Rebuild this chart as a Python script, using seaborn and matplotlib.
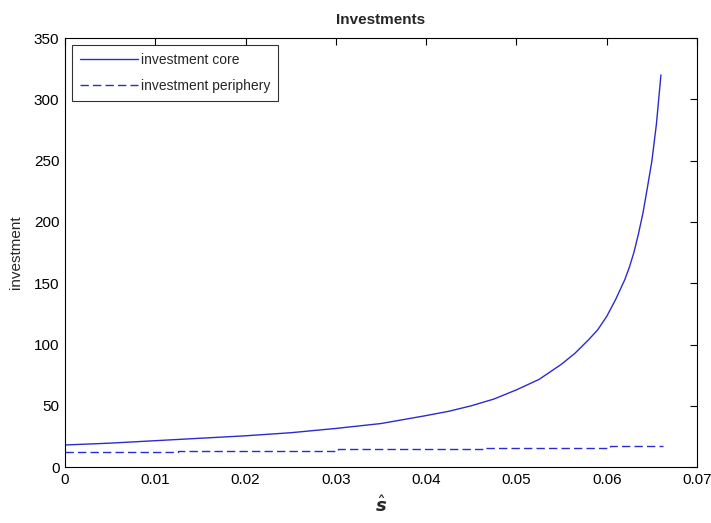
import numpy as np
import pandas as pd
import matplotlib
matplotlib.use('Agg')
import matplotlib.pyplot as plt
import seaborn as sns

# 数据：从图上读取
g_core = [0.0, 0.005, 0.01, 0.015, 0.02, 0.025, 0.03, 0.035, 0.04, 0.0425,
          0.045, 0.0475, 0.05, 0.0525, 0.055, 0.0565, 0.058, 0.059, 0.06,
          0.061, 0.062, 0.0625, 0.063, 0.0635, 0.064, 0.0645, 0.065,
          0.0655, 0.066]
inv_core = [18, 19.5, 21.5, 23.5, 25.5, 28, 31.5, 35.5, 42, 45.5,
            50, 55.5, 63, 71.5, 84, 93, 104, 112, 123,
            137, 153, 163, 175, 190, 207, 228, 250,
            280, 320]

g_peri = [0.0, 0.0125, 0.0302, 0.0465, 0.0604, 0.0662]
inv_peri = [12.5, 13.3, 15.0, 15.5, 16.8, 16.8]

line_color = '#2b2bd0'

sns.set_style('white')
plt.rcParams['font.family'] = ['Liberation Sans', 'DejaVu Sans']

fig = plt.figure(figsize=(7.11, 5.23), dpi=100)
ax = fig.add_axes([0.0914, 0.107, 0.889, 0.820])

df_core = pd.DataFrame({'g': g_core, 'inv': inv_core})
df_peri = pd.DataFrame({'g': g_peri, 'inv': inv_peri})

sns.lineplot(x='g', y='inv', data=df_core, ax=ax, color=line_color,
             linewidth=1.0, label='investment core')
sns.lineplot(x='g', y='inv', data=df_peri, ax=ax, color=line_color,
             linewidth=1.0, drawstyle='steps-post',
             label='investment periphery')
# 虚线样式
ax.lines[-1].set_dashes((6, 3))

ax.set_xlim(0, 0.07)
ax.set_ylim(0, 350)
ax.set_xticks(np.arange(0, 0.0701, 0.01))
ax.set_xticklabels(['0', '0.01', '0.02', '0.03', '0.04', '0.05', '0.06', '0.07'])
ax.set_yticks(np.arange(0, 351, 50))

ax.tick_params(direction='in', length=5, width=0.8, top=True, right=True,
               labelsize=11, colors='black', pad=4)
for s in ax.spines.values():
    s.set_color('black')
    s.set_linewidth(0.8)

ax.set_title('Investments', fontsize=11, fontweight='bold', pad=10)
ax.set_xlabel(r'$\hat{\mathbfit{s}}$', fontsize=13, labelpad=6)
ax.set_ylabel('investment', fontsize=11, labelpad=8)

leg = ax.legend(loc='upper left', fontsize=10, frameon=True, fancybox=False,
                borderaxespad=0.5, handlelength=4.2, handletextpad=0.2,
                labelspacing=0.9, borderpad=0.55)
leg.get_frame().set_edgecolor('black')
leg.get_frame().set_linewidth(0.8)
leg.get_lines()[1].set_dashes((6, 3))

fig.savefig('out.png', dpi=100, facecolor='white')
